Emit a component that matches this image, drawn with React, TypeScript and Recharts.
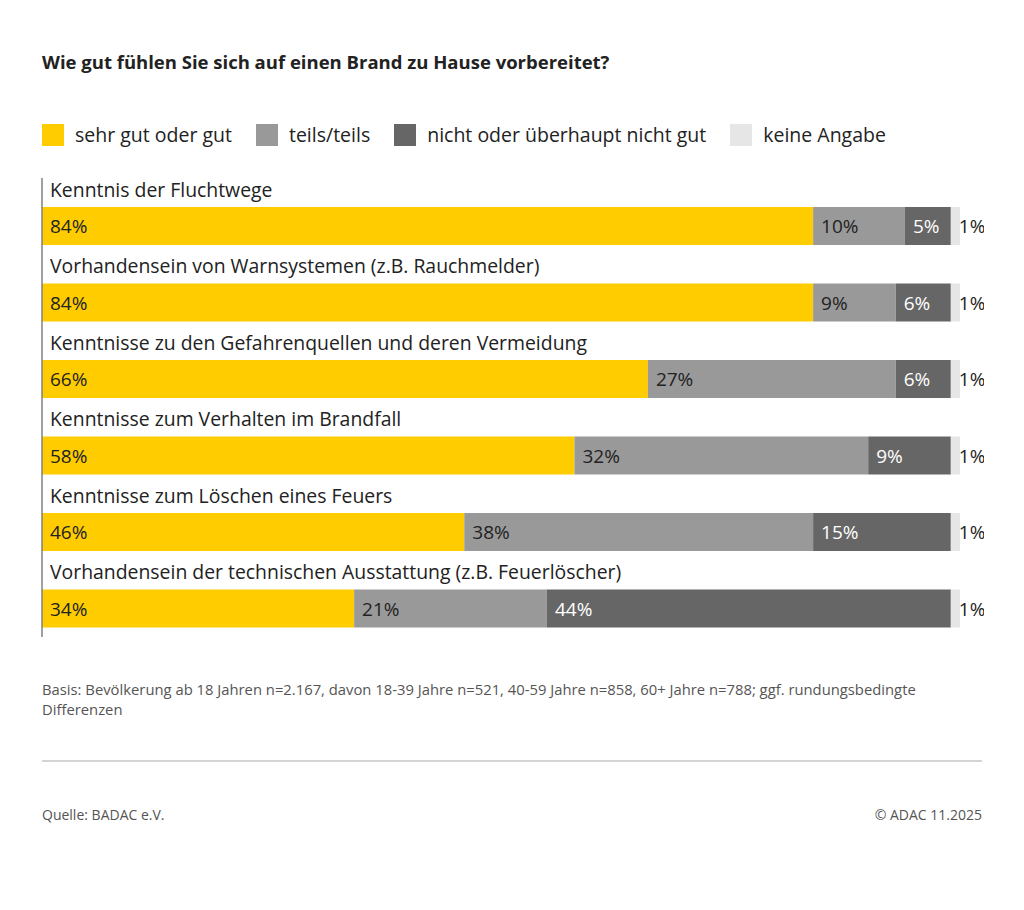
import React from 'react';
import { BarChart, Bar, XAxis, YAxis, Legend, LabelList } from 'recharts';

const categories = [
  'Kenntnis der Fluchtwege',
  'Vorhandensein von Warnsystemen (z.B. Rauchmelder)',
  'Kenntnisse zu den Gefahrenquellen und deren Vermeidung',
  'Kenntnisse zum Verhalten im Brandfall',
  'Kenntnisse zum Löschen eines Feuers',
  'Vorhandensein der technischen Ausstattung (z.B. Feuerlöscher)'
];
const good = [84, 84, 66, 58, 46, 34];
const partly = [10, 9, 27, 32, 38, 21];
const notGood = [5, 6, 6, 9, 15, 44];
const noAnswer = [1, 1, 1, 1, 1, 1];

const seriesNames = ['sehr gut oder gut', 'teils/teils', 'nicht oder überhaupt nicht gut', 'keine Angabe'];
const seriesColors = ['#FFCC00', '#999999', '#666666', '#E6E6E6'];
const labelColors = ['#222222', '#222222', '#ffffff', '#222222'];
const keys = ['good', 'partly', 'notGood', 'noAnswer'];

const data = categories.map((name, i) => ({
  name,
  good: good[i],
  partly: partly[i],
  notGood: notGood[i],
  noAnswer: noAnswer[i]
}));

const FONT = '"Open Sans", "Noto Sans", sans-serif';
const BAR_SHIFT = 10; // bars sit in the lower part of each row, label above

const BarShape = (props: any) => {
  const { x, y, width, height, fill } = props;
  return <rect x={x} y={y + BAR_SHIFT} width={width} height={height} fill={fill} />;
};

const makeLabel = (color: string) => (props: any) => {
  const { x, y, height, value } = props;
  return (
    <text
      x={x + 8}
      y={y + height / 2 + BAR_SHIFT}
      fill={color}
      fontSize={19}
      fontFamily={FONT}
      dominantBaseline="central"
    >
      {value}%
    </text>
  );
};

const CategoryTick = (props: any) => {
  const { y, payload } = props;
  return (
    <text x={50} y={y - 27} fill="#222" fontSize={19.4} fontFamily={FONT} dominantBaseline="central" textAnchor="start">
      {payload.value}
    </text>
  );
};

const LegendContent = () => (
  <div style={{ display: 'flex', alignItems: 'center', fontFamily: FONT, fontSize: 19.5, color: '#222' }}>
    {seriesNames.map((n, i) => (
      <div key={n} style={{ display: 'flex', alignItems: 'center', marginRight: 24 }}>
        <span style={{ display: 'inline-block', width: 22, height: 22, background: seriesColors[i], marginRight: 11 }} />
        <span>{n}</span>
      </div>
    ))}
  </div>
);

export default function App() {
  return (
    <div style={{ position: 'absolute', left: 0, top: 0, width: 1024, height: 910, background: '#fff', fontFamily: FONT }}>
      <div style={{ position: 'absolute', left: 42, top: 49, fontSize: 18.5, fontWeight: 700, color: '#222' }}>
        Wie gut fühlen Sie sich auf einen Brand zu Hause vorbereitet?
      </div>
      <div style={{ position: 'absolute', left: 0, top: 0 }}>
        <BarChart
          width={984}
          height={910}
          data={data}
          layout="vertical"
          margin={{ top: 178, right: 24, bottom: 273, left: 1 }}
          barCategoryGap={0}
        >
          <XAxis type="number" domain={[0, 100]} hide />
          <YAxis
            type="category"
            dataKey="name"
            width={41}
            tickLine={false}
            tickSize={0}
            tickMargin={0}
            axisLine={{ stroke: '#808080', strokeWidth: 1.5 }}
            tick={<CategoryTick />}
            interval={0}
          />
          <Legend
            layout="horizontal"
            verticalAlign="middle"
            align="center"
            wrapperStyle={{ top: 121, left: 42, width: 940 }}
            content={<LegendContent />}
          />
          {keys.map((k, i) => (
            <Bar
              key={k}
              dataKey={k}
              name={seriesNames[i]}
              stackId="a"
              fill={seriesColors[i]}
              barSize={38}
              shape={<BarShape />}
              isAnimationActive={false}
            >
              <LabelList dataKey={k} content={makeLabel(labelColors[i])} />
            </Bar>
          ))}
        </BarChart>
      </div>
      <div style={{ position: 'absolute', left: 42, top: 679, width: 940, fontSize: 14.8, lineHeight: '20px', color: '#555' }}>
        Basis: Bevölkerung ab 18 Jahren n=2.167, davon 18-39 Jahre n=521, 40-59 Jahre n=858, 60+ Jahre n=788; ggf. rundungsbedingte Differenzen
      </div>
      <div style={{ position: 'absolute', left: 42, top: 760, width: 940, height: 2, background: '#d4d4d4' }} />
      <div style={{ position: 'absolute', left: 42, top: 805, fontSize: 14, color: '#555' }}>Quelle: BADAC e.V.</div>
      <div style={{ position: 'absolute', right: 1024 - 982, top: 805, fontSize: 14, color: '#555' }}>© ADAC 11.2025</div>
    </div>
  );
}
